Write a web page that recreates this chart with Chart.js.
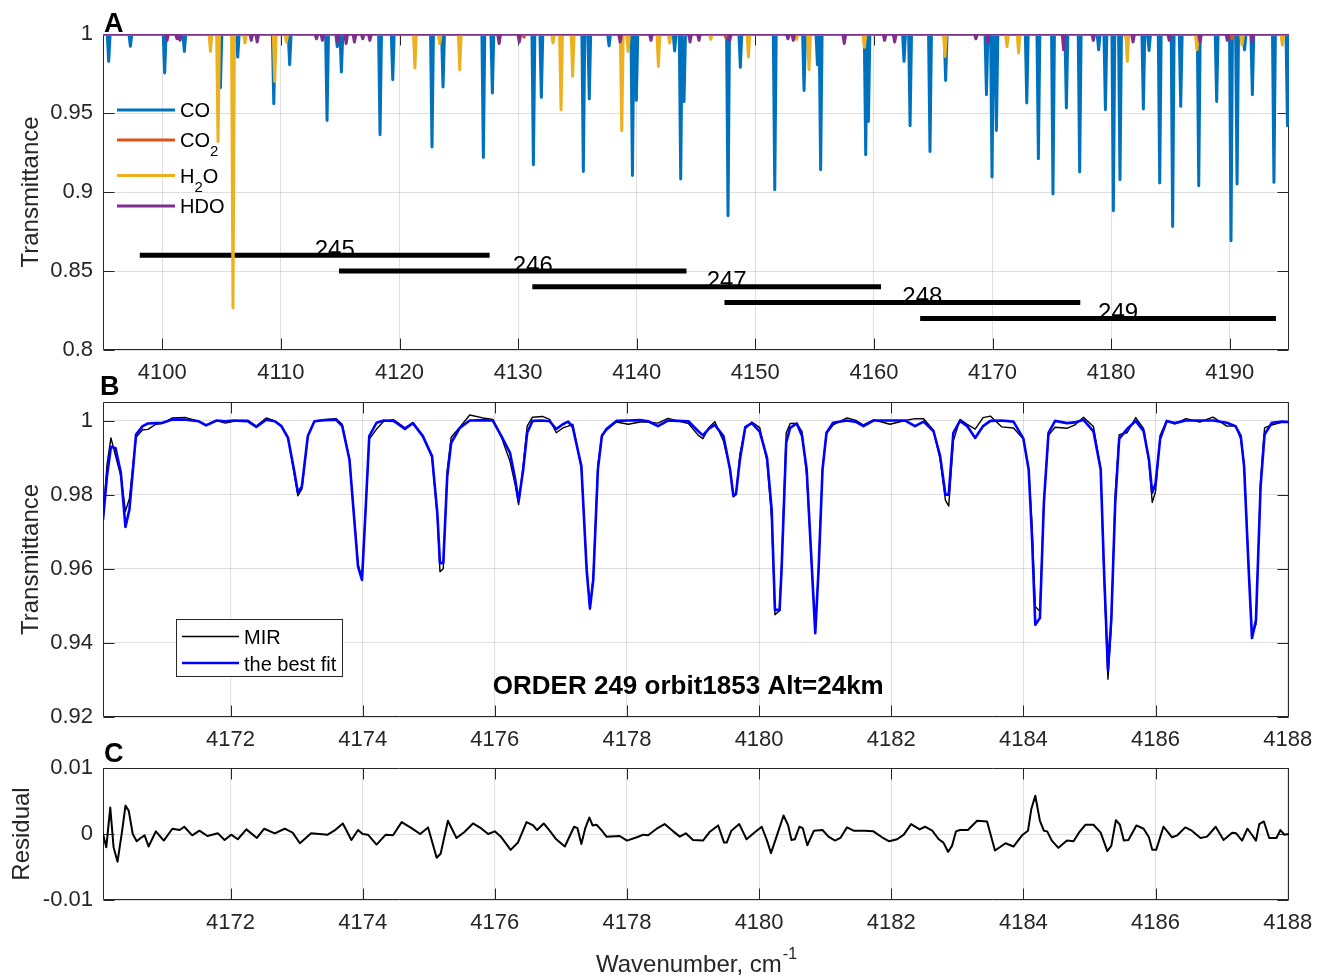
<!DOCTYPE html>
<html lang="en">
<head>
    <title>ORDER 249 orbit1853 Alt=24km</title>
    <meta charset="UTF-8">
    <script src="https://cdn.jsdelivr.net/npm/chart.js"></script>
    <style>
        body { margin: 0; background: #fff; }
        #wrap { position: relative; width: 1325px; height: 978px; }
        canvas { position: absolute; left: 0; }
    </style>
</head>
<body>
<div id="wrap">
    <canvas id="chartA" width="1325" height="400" style="top:0"></canvas>
    <canvas id="chartB" width="1325" height="390" style="top:370px"></canvas>
    <canvas id="chartC" width="1325" height="243" style="top:735px"></canvas>
</div>

<script>
    // ---- Panel A: line list per species (centre, transmittance at centre) ----
    const xMinA = 4095, xMaxA = 4195;
    const xTicksA = [4100, 4110, 4120, 4130, 4140, 4150, 4160, 4170, 4180, 4190];
    const yTicksA = [0.8, 0.85, 0.9, 0.95, 1];

    const coPos = [4095.48, 4097.31, 4100.2, 4101.86, 4104.9, 4106.36, 4109.4, 4110.74, 4113.89, 4114.75,
        4115.1, 4118.36, 4119.43, 4122.74, 4123.67, 4127.07, 4127.83, 4131.29, 4131.96, 4135.5,
        4136.0, 4137.67, 4139.64, 4139.97, 4143.2, 4143.71, 4143.99, 4147.7, 4148.74, 4151.64,
        4154.11, 4155.24, 4155.51, 4159.31, 4159.54, 4162.54, 4163.05, 4164.73, 4166.05, 4169.49,
        4169.96, 4170.33, 4172.89, 4173.87, 4175.1, 4176.23, 4177.35, 4178.95, 4179.52, 4180.19,
        4180.75, 4182.72, 4183.2, 4184.1, 4185.19, 4185.87, 4187.39, 4188.9, 4190.11, 4190.62,
        4191.25, 4191.91, 4193.73, 4194.87];
    const coDepth = [0.9827, 0.9922, 0.9753, 0.989, 0.966, 0.9854, 0.9559, 0.9806, 0.9453, 0.992,
        0.976, 0.9363, 0.971, 0.9285, 0.9665, 0.9219, 0.9627, 0.9173, 0.9599, 0.913,
        0.9589, 0.9925, 0.9105, 0.958, 0.9893, 0.9082, 0.9573, 0.885, 0.9789, 0.9015,
        0.9643, 0.9806, 0.9141, 0.9236, 0.9447, 0.9827, 0.942, 0.9257, 0.9706, 0.9616,
        0.9095, 0.939, 0.9563, 0.9211, 0.8987, 0.9532, 0.9127, 0.99, 0.952, 0.8882,
        0.9078, 0.9525, 0.9895, 0.9057, 0.8782, 0.9542, 0.904, 0.9573, 0.8692, 0.905,
        0.99, 0.9616, 0.9061, 0.942];

    const co2Pos = [4106.0, 4130.5, 4147.5, 4169.6, 4176.0, 4181.3, 4190.2];
    const co2Depth = [0.998, 0.998, 0.998, 0.997, 0.998, 0.997, 0.997];

    const h2oPos = [4104.06, 4104.7, 4105.96, 4106.97, 4109.48, 4110.46, 4121.3, 4123.39, 4125.08, 4132.94,
        4133.62, 4134.6, 4138.74, 4139.27, 4141.83, 4142.78, 4146.24, 4149.42, 4153.47, 4154.53,
        4159.2, 4165.99, 4171.22, 4172.2, 4181.37, 4187.24, 4191.04, 4194.44];
    const h2oDepth = [0.989, 0.932, 0.8266, 0.9943, 0.970, 0.9949, 0.9785, 0.994, 0.9774, 0.9943,
        0.9521, 0.9732, 0.9388, 0.989, 0.9795, 0.9943, 0.9966, 0.9854, 0.9966, 0.9774,
        0.9916, 0.9858, 0.992, 0.988, 0.9827, 0.99, 0.993, 0.993];

    const hdoPos = [4100.4, 4101.24, 4101.5, 4107.5, 4108.0, 4113.0, 4113.5, 4114.8, 4115.5, 4116.2,
        4116.9, 4117.5, 4128.4, 4130.1, 4138.6, 4141.2, 4144.5, 4145.25, 4147.85, 4152.75,
        4153.2, 4157.5, 4160.9, 4161.75, 4168.6, 4169.6, 4176.0, 4178.5, 4181.85, 4184.9,
        4187.5, 4189.8, 4191.9];
    const hdoDepth = [0.996, 0.997, 0.996, 0.996, 0.995, 0.997, 0.996, 0.995, 0.994, 0.995,
        0.997, 0.996, 0.994, 0.995, 0.995, 0.996, 0.995, 0.996, 0.996, 0.997,
        0.996, 0.994, 0.996, 0.995, 0.997, 0.995, 0.990, 0.996, 0.995, 0.996,
        0.995, 0.996, 0.995];

    // diffraction orders covered by the window
    const orders = [245, 246, 247, 248, 249];
    const orderStart = [4098.1, 4114.9, 4131.2, 4147.4, 4163.9];
    const orderEnd = [4127.6, 4144.2, 4160.6, 4177.4, 4193.9];
    const orderLevel = [0.86, 0.85, 0.84, 0.83, 0.82];

    // ---- Panel B: measured spectrum and fitted model ----
    const xMinB = 4170.07, xMaxB = 4188.02;
    const xTicksB = [4172, 4174, 4176, 4178, 4180, 4182, 4184, 4186, 4188];
    const yTicksB = [0.92, 0.94, 0.96, 0.98, 1];

    const waveB = [4170.07, 4170.13, 4170.19, 4170.26, 4170.34, 4170.41, 4170.47, 4170.57, 4170.67, 4170.75,
        4170.87, 4170.97, 4171.12, 4171.32, 4171.52, 4171.63, 4171.79, 4171.92, 4172.05, 4172.17,
        4172.26, 4172.39, 4172.54, 4172.67, 4172.77, 4172.87, 4172.96, 4173.02, 4173.08, 4173.17,
        4173.27, 4173.42, 4173.60, 4173.69, 4173.80, 4173.93, 4173.99, 4174.05, 4174.10, 4174.21,
        4174.32, 4174.47, 4174.64, 4174.76, 4174.91, 4175.05, 4175.13, 4175.17, 4175.22, 4175.28,
        4175.34, 4175.47, 4175.62, 4175.82, 4175.97, 4176.10, 4176.23, 4176.31, 4176.36, 4176.43,
        4176.49, 4176.57, 4176.72, 4176.83, 4176.93, 4177.03, 4177.11, 4177.18, 4177.31, 4177.39,
        4177.44, 4177.49, 4177.56, 4177.62, 4177.69, 4177.84, 4178.02, 4178.20, 4178.32, 4178.47,
        4178.62, 4178.77, 4178.93, 4179.08, 4179.15, 4179.24, 4179.33, 4179.46, 4179.56, 4179.61,
        4179.65, 4179.71, 4179.79, 4179.89, 4180.01, 4180.12, 4180.19, 4180.24, 4180.31, 4180.34,
        4180.41, 4180.47, 4180.57, 4180.65, 4180.72, 4180.80, 4180.85, 4180.90, 4180.96, 4181.02,
        4181.12, 4181.33, 4181.47, 4181.58, 4181.73, 4181.98, 4182.21, 4182.36, 4182.49, 4182.64,
        4182.74, 4182.82, 4182.87, 4182.94, 4183.04, 4183.15, 4183.27, 4183.39, 4183.50, 4183.67,
        4183.85, 4184.00, 4184.08, 4184.13, 4184.18, 4184.25, 4184.31, 4184.38, 4184.48, 4184.66,
        4184.78, 4184.91, 4185.06, 4185.17, 4185.22, 4185.28, 4185.33, 4185.39, 4185.45, 4185.57,
        4185.70, 4185.82, 4185.90, 4185.95, 4186.00, 4186.07, 4186.17, 4186.29, 4186.46, 4186.67,
        4186.87, 4187.08, 4187.21, 4187.29, 4187.34, 4187.41, 4187.46, 4187.52, 4187.59, 4187.65,
        4187.76, 4187.92, 4188.02];

    const bestFit = [0.9732, 0.9850, 0.9929, 0.9925, 0.9859, 0.9713, 0.9760, 0.9962, 0.9985, 0.9992,
        0.9993, 0.9994, 1.0003, 1.0002, 0.9998, 0.9987, 1.0000, 0.9998, 1.0000, 0.9999,
        0.9998, 0.9983, 1.0002, 0.9998, 0.9985, 0.9953, 0.9868, 0.9806, 0.9822, 0.9958,
        0.9998, 1.0001, 1.0002, 0.9985, 0.9895, 0.9606, 0.9570, 0.9778, 0.9958, 0.9994,
        1.0000, 0.9999, 0.9977, 0.9993, 0.9958, 0.9904, 0.9750, 0.9615, 0.9616, 0.9850,
        0.9940, 0.9980, 1.0000, 1.0001, 1.0000, 0.9958, 0.9913, 0.9840, 0.9782, 0.9868,
        0.9967, 0.9999, 1.0000, 0.9998, 0.9977, 0.9990, 0.9997, 0.9982, 0.9877, 0.9597,
        0.9494, 0.9570, 0.9868, 0.9958, 0.9977, 0.9999, 1.0000, 1.0001, 0.9998, 0.9985,
        1.0000, 0.9999, 0.9998, 0.9971, 0.9960, 0.9978, 0.9988, 0.9958, 0.9868, 0.9797,
        0.9802, 0.9895, 0.9982, 0.9993, 0.9970, 0.9899, 0.9760, 0.9489, 0.9489, 0.9597,
        0.9940, 0.9980, 0.9992, 0.9958, 0.9868, 0.9597, 0.9426, 0.9597, 0.9868, 0.9967,
        0.9994, 1.0000, 0.9996, 0.9985, 1.0000, 1.0000, 1.0000, 0.9985, 0.9997, 0.9971,
        0.9904, 0.9800, 0.9800, 0.9967, 0.9999, 0.9985, 0.9953, 0.9985, 0.9999, 1.0000,
        0.9997, 0.9951, 0.9868, 0.9687, 0.9449, 0.9467, 0.9778, 0.9967, 0.9999, 0.9993,
        0.9995, 1.0002, 0.9971, 0.9868, 0.9597, 0.9327, 0.9462, 0.9778, 0.9951, 0.9977,
        0.9999, 0.9971, 0.9895, 0.9805, 0.9830, 0.9951, 0.9999, 0.9993, 1.0000, 1.0000,
        1.0000, 0.9994, 0.9985, 0.9958, 0.9877, 0.9597, 0.9413, 0.9462, 0.9822, 0.9962,
        0.9994, 0.9997, 0.9996];

    const mir = [0.9735, 0.9880, 0.9953, 0.9905, 0.9850, 0.9755, 0.9790, 0.9955, 0.9975, 0.9976,
        0.9990, 0.9992, 1.0007, 1.0008, 0.9998, 0.9988, 1.0000, 0.9993, 0.9998, 1.0000,
        1.0001, 0.9985, 1.0007, 0.9999, 0.9986, 0.9955, 0.9860, 0.9797, 0.9815, 0.9958,
        0.9998, 1.0002, 1.0005, 0.9990, 0.9895, 0.9612, 0.9574, 0.9778, 0.9950, 0.9977,
        0.9998, 1.0002, 0.9980, 0.9994, 0.9960, 0.9900, 0.9740, 0.9592, 0.9600, 0.9865,
        0.9955, 0.9982, 1.0015, 1.0007, 1.0003, 0.9955, 0.9890, 0.9825, 0.9773, 0.9880,
        0.9985, 1.0009, 1.0011, 1.0003, 0.9967, 0.9980, 0.9985, 0.9990, 0.9870, 0.9605,
        0.9490, 0.9582, 0.9880, 0.9962, 0.9974, 0.9996, 0.9990, 0.9996, 0.9996, 0.9993,
        1.0006, 0.9999, 0.9992, 0.9960, 0.9951, 0.9981, 0.9997, 0.9945, 0.9870, 0.9794,
        0.9800, 0.9910, 0.9978, 0.9996, 0.9981, 0.9890, 0.9735, 0.9476, 0.9487, 0.9610,
        0.9966, 0.9992, 0.9992, 0.9970, 0.9852, 0.9600, 0.9428, 0.9600, 0.9874, 0.9965,
        0.9988, 1.0007, 1.0000, 0.9988, 1.0002, 0.9990, 1.0000, 1.0005, 1.0005, 0.9974,
        0.9895, 0.9785, 0.9769, 0.9945, 1.0003, 0.9990, 0.9977, 1.0008, 1.0012, 0.9983,
        0.9980, 0.9950, 0.9870, 0.9720, 0.9498, 0.9485, 0.9782, 0.9960, 0.9982, 0.9979,
        0.9988, 1.0009, 0.9984, 0.9870, 0.9580, 0.9302, 0.9445, 0.9800, 0.9962, 0.9967,
        1.0008, 0.9978, 0.9890, 0.9779, 0.9808, 0.9960, 1.0000, 0.9991, 1.0005, 0.9996,
        1.0009, 0.9985, 0.9986, 0.9950, 0.9885, 0.9605, 0.9418, 0.9450, 0.9837, 0.9980,
        0.9988, 0.9996, 0.9996];

    // ---- Panel C: residual of the fit ----
    const yTicksC = [-0.01, 0, 0.01];
    const waveC = [4170.07, 4170.12, 4170.18, 4170.23, 4170.29, 4170.36, 4170.41, 4170.46, 4170.52, 4170.58,
        4170.64, 4170.70, 4170.76, 4170.87, 4170.99, 4171.12, 4171.23, 4171.30, 4171.42, 4171.53,
        4171.65, 4171.81, 4171.91, 4172.01, 4172.11, 4172.24, 4172.40, 4172.51, 4172.67, 4172.82,
        4172.94, 4173.05, 4173.22, 4173.47, 4173.57, 4173.70, 4173.83, 4173.93, 4174.00, 4174.08,
        4174.21, 4174.35, 4174.46, 4174.59, 4174.74, 4174.87, 4174.99, 4175.12, 4175.18, 4175.29,
        4175.42, 4175.54, 4175.67, 4175.80, 4175.90, 4176.00, 4176.10, 4176.24, 4176.35, 4176.48,
        4176.58, 4176.64, 4176.74, 4176.83, 4176.93, 4177.06, 4177.12, 4177.20, 4177.25, 4177.31,
        4177.37, 4177.43, 4177.48, 4177.54, 4177.62, 4177.69, 4177.89, 4178.00, 4178.15, 4178.25,
        4178.32, 4178.45, 4178.57, 4178.70, 4178.80, 4178.89, 4179.00, 4179.15, 4179.25, 4179.38,
        4179.47, 4179.51, 4179.58, 4179.70, 4179.81, 4179.94, 4180.04, 4180.12, 4180.18, 4180.27,
        4180.37, 4180.44, 4180.49, 4180.54, 4180.61, 4180.66, 4180.73, 4180.83, 4180.96, 4181.05,
        4181.15, 4181.23, 4181.33, 4181.43, 4181.60, 4181.73, 4181.86, 4181.97, 4182.09, 4182.19,
        4182.30, 4182.43, 4182.51, 4182.62, 4182.72, 4182.79, 4182.86, 4182.92, 4182.98, 4183.04,
        4183.16, 4183.30, 4183.45, 4183.57, 4183.73, 4183.85, 4183.98, 4184.07, 4184.12, 4184.18,
        4184.25, 4184.31, 4184.36, 4184.43, 4184.53, 4184.66, 4184.76, 4184.84, 4184.94, 4185.06,
        4185.17, 4185.27, 4185.33, 4185.40, 4185.46, 4185.52, 4185.59, 4185.71, 4185.82, 4185.90,
        4185.95, 4186.01, 4186.12, 4186.25, 4186.33, 4186.45, 4186.55, 4186.68, 4186.78, 4186.91,
        4187.03, 4187.16, 4187.22, 4187.31, 4187.39, 4187.45, 4187.52, 4187.57, 4187.64, 4187.72,
        4187.83, 4187.89, 4187.95, 4188.02];
    const residual = [0, -0.002, 0.004, -0.002, -0.0042, 0.0005, 0.0043, 0.0035, 0, -0.0011,
        -0.0006, -0.0002, -0.0019, 0.0004, -0.001, 0.0008, 0.0006, 0.0011, -0.0002, 0.0005,
        -0.0003, 0.0001, -0.0009, -0.0001, -0.0008, 0.0007, -0.0006, 0.0008, 0.0001, 0.0008,
        0.0002, -0.0014, 0.0001, -0.0001, 0.0005, 0.0016, -0.0009, 0.0006, 0, -0.0001,
        -0.0016, -0.0001, -0.0002, 0.0018, 0.0009, 0, 0.001, -0.0036, -0.003, 0.002,
        -0.0006, 0.0003, 0.0016, 0.0008, 0, 0.0004, -0.0005, -0.0024, -0.0013, 0.0018,
        0.0013, 0.0006, 0.0016, 0.0005, -0.0008, -0.0019, -0.0006, 0.0011, 0.0009, -0.0015,
        0.0009, 0.0025, 0.0013, 0.0014, 0.0005, -0.0004, -0.0003, -0.001, -0.0005, -0.0001,
        -0.0002, 0.0008, 0.0015, 0.0004, -0.0004, 0.0001, -0.0009, -0.001, 0.0003, 0.0013,
        -0.0013, -0.0013, 0.0005, 0.0015, -0.0008, 0.0003, 0.0011, -0.001, -0.0029, -0.0002,
        0.0028, 0.0013, -0.0009, -0.0008, 0.0011, 0.0009, -0.0017, 0.0005, 0.0006, -0.0004,
        -0.001, -0.0006, 0.001, 0.0005, 0.0005, 0.0004, -0.0005, -0.0011, -0.0008, -0.0001,
        0.0015, 0.0007, 0.0011, 0.0005, -0.0008, -0.0013, -0.0027, -0.0018, 0.0004, 0.0006,
        0.0006, 0.002, 0.0019, -0.0025, -0.0014, -0.0019, -0.0002, 0.0005, 0.0038, 0.0058,
        0.002, 0.0005, 0.0004, -0.001, -0.0021, -0.001, -0.0011, 0.0002, 0.0014, 0.0014,
        0.0002, -0.0026, -0.0018, 0.0021, 0.0014, -0.001, -0.0009, 0.0013, 0.0008, -0.0005,
        -0.0024, -0.0024, 0.0011, -0.0005, -0.0002, 0.001, 0.0005, -0.0006, -0.0004, 0.0011,
        -0.0009, 0.0002, 0.0001, -0.001, 0.0008, 0, -0.001, 0.0015, 0.0019, -0.0006,
        -0.0006, 0.0006, -0.0001, 0];

    // ---- shared styling ----
    const FONT = '"Liberation Sans", Arial, Helvetica, sans-serif';
    const INK = '#262626';
    const GRID = 'rgba(38,38,38,0.15)';
    const MATLAB = { co: '#0072BD', co2: '#D95319', h2o: '#EDB120', hdo: '#7E2F8E' };
    const LINE_HALF = 0.12; // half base width of a drawn absorption line, cm-1

    Chart.defaults.font.family = FONT;
    Chart.defaults.color = INK;

    // box round the plot area and inward tick marks on every side
    Chart.register({
        id: 'axesBox',
        beforeDatasetsDraw(chart) {
            const { ctx, chartArea: a, scales: { x, y } } = chart;
            const len = 11;
            const L = Math.round(a.left) + 0.5, R = Math.round(a.right) - 0.5;
            const T = Math.round(a.top) + 0.5, B = Math.round(a.bottom) - 0.5;
            ctx.save();
            ctx.strokeStyle = INK;
            ctx.lineWidth = 1;
            ctx.beginPath();
            x.ticks.forEach(t => {
                const px = Math.round(x.getPixelForValue(t.value)) + 0.5;
                ctx.moveTo(px, B); ctx.lineTo(px, B - len);
                ctx.moveTo(px, T); ctx.lineTo(px, T + len);
            });
            y.ticks.forEach(t => {
                const py = Math.round(y.getPixelForValue(t.value)) + 0.5;
                ctx.moveTo(L, py); ctx.lineTo(L + len, py);
                ctx.moveTo(R, py); ctx.lineTo(R - len, py);
            });
            ctx.rect(L, T, R - L, B - T);
            ctx.stroke();
            ctx.restore();
        }
    });

    const fmt = v => String(parseFloat(Number(v).toFixed(4)));

    function xScale(min, max, ticks, height) {
        return {
            type: 'linear', min: min, max: max,
            afterBuildTicks: s => { s.ticks = ticks.map(v => ({ value: v })); },
            afterFit: s => { s.height = height; },
            grid: { color: GRID, drawTicks: false },
            border: { display: false },
            ticks: { font: { size: 22 }, color: INK, padding: 10, maxRotation: 0, autoSkip: false, callback: fmt }
        };
    }

    function yScale(min, max, ticks, title, titlePad) {
        return {
            type: 'linear', min: min, max: max,
            afterBuildTicks: s => { s.ticks = ticks.map(v => ({ value: v })); },
            afterFit: s => { s.width = 103; },
            grid: { color: GRID, drawTicks: false },
            border: { display: false },
            ticks: { font: { size: 22 }, color: INK, padding: 10, autoSkip: false, callback: fmt },
            title: { display: true, text: title, color: INK, font: { size: 24 }, padding: { top: titlePad, bottom: 0 } }
        };
    }

    function baseOptions(pad, scales) {
        return {
            responsive: false,
            animation: false,
            layout: { padding: pad },
            elements: { point: { radius: 0 }, line: { tension: 0, borderJoinStyle: 'round' } },
            plugins: { legend: { display: false }, tooltip: { enabled: false } },
            scales: scales
        };
    }

    function panelLetter(ctx, letter, x, y) {
        ctx.save();
        ctx.font = 'bold 27px ' + FONT;
        ctx.fillStyle = '#000';
        ctx.textBaseline = 'alphabetic';
        ctx.fillText(letter, x, y);
        ctx.restore();
    }

    // text runs with an optional smaller, shifted part (chemical subscripts)
    function richText(ctx, parts, x, y, size) {
        let cx = x;
        parts.forEach(p => {
            ctx.font = (p.small ? Math.round(size * 0.75) : size) + 'px ' + FONT;
            ctx.fillText(p.t, cx, y + (p.dy || 0));
            cx += ctx.measureText(p.t).width;
        });
        return cx;
    }

    // absorption lines as narrow dips from the continuum at 1
    function spikes(pos, depth) {
        const pts = [{ x: xMinA, y: 1 }, { x: xMaxA, y: 1 }];
        pos.forEach((p, i) => {
            pts.push({ x: p - LINE_HALF, y: 1 }, { x: p, y: depth[i] }, { x: p + LINE_HALF, y: 1 });
        });
        return pts.sort((a, b) => a.x - b.x);
    }

    // ---- Panel A ----
    const orderSets = orders.map((o, i) => ({
        data: [{ x: orderStart[i], y: orderLevel[i] }, { x: orderEnd[i], y: orderLevel[i] }],
        borderColor: '#000', borderWidth: 5, borderCapStyle: 'butt', order: 5
    }));

    new Chart(document.getElementById('chartA'), {
        type: 'line',
        data: {
            datasets: [
                { label: 'CO', data: spikes(coPos, coDepth), borderColor: MATLAB.co, borderWidth: 3, order: 3 },
                { label: 'CO2', data: spikes(co2Pos, co2Depth), borderColor: MATLAB.co2, borderWidth: 3, order: 2 },
                { label: 'H2O', data: spikes(h2oPos, h2oDepth), borderColor: MATLAB.h2o, borderWidth: 3, order: 1 },
                { label: 'HDO', data: spikes(hdoPos, hdoDepth), borderColor: MATLAB.hdo, borderWidth: 3, order: 0 },
                ...orderSets
            ]
        },
        options: baseOptions({ top: 34, right: 36, bottom: 0, left: 0 }, {
            x: xScale(xMinA, xMaxA, xTicksA, 50),
            y: yScale(0.8, 1, yTicksA, 'Transmittance', 17)
        }),
        plugins: [{
            id: 'panelA',
            beforeDatasetsDraw(chart) {
                // order numbers sit on their bars, starting at the bar centre
                const { ctx, scales: { x, y } } = chart;
                ctx.save();
                ctx.fillStyle = '#000';
                ctx.font = '24px ' + FONT;
                ctx.textBaseline = 'alphabetic';
                orders.forEach((o, i) => {
                    const px = x.getPixelForValue((orderStart[i] + orderEnd[i]) / 2);
                    const py = y.getPixelForValue(orderLevel[i]);
                    ctx.fillText(String(o), px, py + 1.5);
                });
                ctx.restore();
            },
            afterDatasetsDraw(chart) {
                const { ctx } = chart;
                const rows = [
                    { c: MATLAB.co, y: 110, parts: [{ t: 'CO' }] },
                    { c: MATLAB.co2, y: 140, parts: [{ t: 'CO' }, { t: '2', small: true, dy: 9 }] },
                    { c: MATLAB.h2o, y: 175.5, parts: [{ t: 'H' }, { t: '2', small: true, dy: 9 }, { t: 'O' }] },
                    { c: MATLAB.hdo, y: 206, parts: [{ t: 'HDO' }] }
                ];
                ctx.save();
                rows.forEach(r => {
                    ctx.strokeStyle = r.c;
                    ctx.lineWidth = 3;
                    ctx.beginPath();
                    ctx.moveTo(117, r.y); ctx.lineTo(175, r.y);
                    ctx.stroke();
                    ctx.fillStyle = '#000';
                    ctx.textBaseline = 'alphabetic';
                    richText(ctx, r.parts, 180, r.y + 7, 20);
                });
                ctx.restore();
                panelLetter(ctx, 'A', 104, 32);
            }
        }]
    });

    // ---- Panel B ----
    new Chart(document.getElementById('chartB'), {
        type: 'line',
        data: {
            datasets: [
                { label: 'the best fit', data: waveB.map((w, i) => ({ x: w, y: bestFit[i] })), borderColor: '#0000ff', borderWidth: 2.6, order: 0 },
                { label: 'MIR', data: waveB.map((w, i) => ({ x: w, y: mir[i] })), borderColor: '#000', borderWidth: 1.4, order: 1 }
            ]
        },
        options: baseOptions({ top: 32, right: 36, bottom: 0, left: 0 }, {
            x: xScale(xMinB, xMaxB, xTicksB, 43),
            y: yScale(0.92, 1.005, yTicksB, 'Transmittance', 17)
        }),
        plugins: [{
            id: 'panelB',
            afterDatasetsDraw(chart) {
                const { ctx, scales: { x, y } } = chart;
                ctx.save();
                // legend box
                ctx.fillStyle = '#fff';
                ctx.strokeStyle = INK;
                ctx.lineWidth = 1;
                ctx.fillRect(176, 249, 167, 58);
                ctx.strokeRect(176.5, 249.5, 166, 57);
                ctx.strokeStyle = '#000';
                ctx.lineWidth = 1.4;
                ctx.beginPath(); ctx.moveTo(182, 266.5); ctx.lineTo(239, 266.5); ctx.stroke();
                ctx.strokeStyle = '#0000ff';
                ctx.lineWidth = 2.6;
                ctx.beginPath(); ctx.moveTo(182, 293); ctx.lineTo(239, 293); ctx.stroke();
                ctx.fillStyle = '#000';
                ctx.font = '20px ' + FONT;
                ctx.textBaseline = 'alphabetic';
                ctx.fillText('MIR', 244, 274);
                ctx.fillText('the best fit', 244, 300.5);
                // caption placed in data coordinates
                ctx.font = 'bold 26px ' + FONT;
                ctx.textBaseline = 'middle';
                ctx.fillText('ORDER 249 orbit1853 Alt=24km', x.getPixelForValue(4175.97), y.getPixelForValue(0.9282));
                ctx.restore();
                panelLetter(ctx, 'B', 100, 25);
            }
        }]
    });

    // ---- Panel C ----
    new Chart(document.getElementById('chartC'), {
        type: 'line',
        data: {
            datasets: [
                { label: 'Residual', data: waveC.map((w, i) => ({ x: w, y: residual[i] })), borderColor: '#000', borderWidth: 2 }
            ]
        },
        options: baseOptions({ top: 33, right: 36, bottom: 0, left: 0 }, {
            x: xScale(xMinB, xMaxB, xTicksB, 78),
            y: yScale(-0.01, 0.01, yTicksC, 'Residual', 8)
        }),
        plugins: [{
            id: 'panelC',
            afterDraw(chart) {
                const { ctx, chartArea: a } = chart;
                ctx.save();
                ctx.fillStyle = INK;
                ctx.textBaseline = 'alphabetic';
                // axis title with superscript exponent, centred under the plot
                ctx.font = '24px ' + FONT;
                const main = 'Wavenumber, cm';
                const wMain = ctx.measureText(main).width;
                ctx.font = '16px ' + FONT;
                const wSup = ctx.measureText('-1').width;
                const x0 = (a.left + a.right) / 2 - (wMain + wSup) / 2;
                ctx.font = '24px ' + FONT;
                ctx.fillText(main, x0, 236.5);
                ctx.font = '16px ' + FONT;
                ctx.fillText('-1', x0 + wMain + 1, 224);
                ctx.restore();
                panelLetter(ctx, 'C', 104, 27);
            }
        }]
    });
</script>
</body>
</html>
